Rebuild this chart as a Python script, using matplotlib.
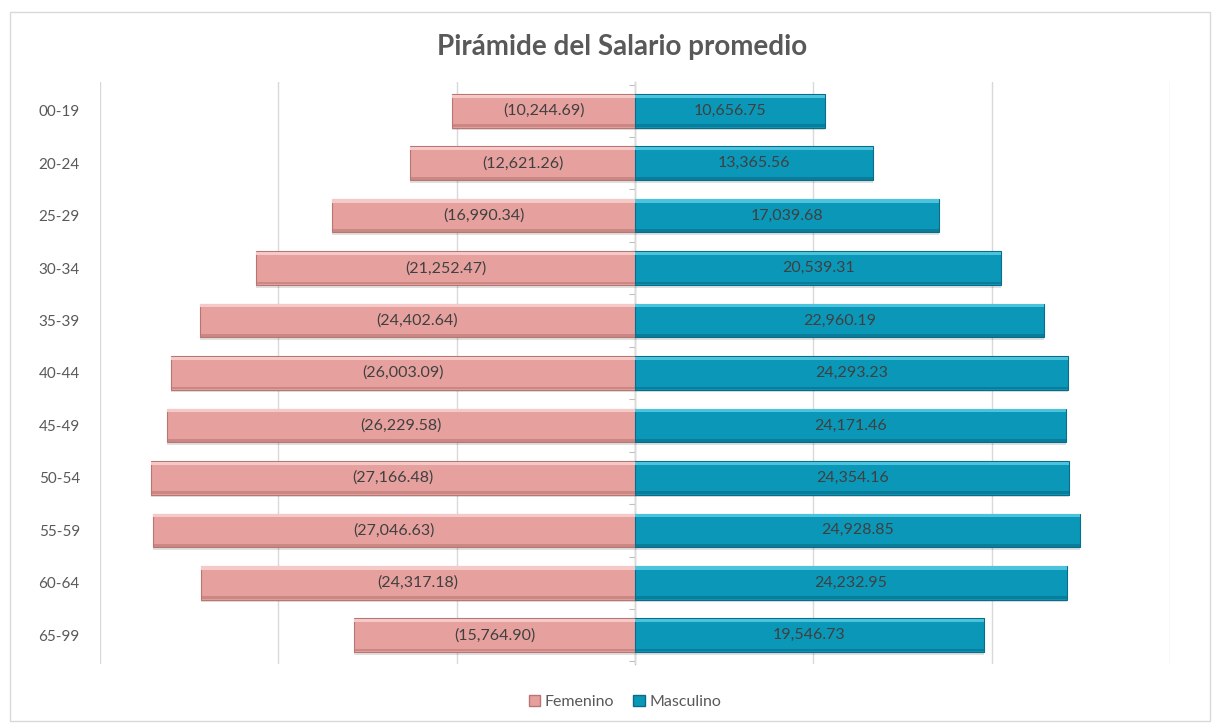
import matplotlib
matplotlib.use("Agg")
import matplotlib.pyplot as plt
from matplotlib.patches import Rectangle
import numpy as np

plt.rcParams['font.family'] = ['Lato', 'DejaVu Sans']

categories = ["00-19", "20-24", "25-29", "30-34", "35-39", "40-44",
              "45-49", "50-54", "55-59", "60-64", "65-99"]
femenino = [10244.69, 12621.26, 16990.34, 21252.47, 24402.64, 26003.09,
            26229.58, 27166.48, 27046.63, 24317.18, 15764.90]
masculino = [10656.75, 13365.56, 17039.68, 20539.31, 22960.19, 24293.23,
             24171.46, 24354.16, 24928.85, 24232.95, 19546.73]
title = "Pirámide del Salario promedio"
series_names = ["Femenino", "Masculino"]

pink = "#E6A19F"
pink_edge = "#B87673"
pink_hi = "#F4C9C7"
teal = "#0B97B8"
teal_edge = "#0A6C86"
teal_hi = "#4CC3DD"
text_col = "#404040"
label_col = "#595959"
grid_col = "#D9D9D9"

W, H = 1216, 725
fig = plt.figure(figsize=(W / 100, H / 100), dpi=100)
fig.patch.set_facecolor("white")
fig.patches.append(Rectangle((10 / W, 4 / H), 1200 / W, 709 / H, transform=fig.transFigure,
                             fill=False, edgecolor="#D9D9D9", linewidth=1.0))

ax = fig.add_axes([100 / W, 1 - 664 / H, 1070 / W, (664 - 82) / H])
y = np.arange(len(categories))
fem_neg = -np.array(femenino)
mas = np.array(masculino)
h = 0.64

# shadows
ax.barh(y + 0.05, fem_neg, height=h, left=0, color="#000000", alpha=0.12, zorder=2, linewidth=0)
ax.barh(y + 0.05, mas, height=h, color="#000000", alpha=0.12, zorder=2, linewidth=0)
# main bars
ax.barh(y, fem_neg, height=h, color=pink, edgecolor=pink_edge, linewidth=0.8, zorder=3)
ax.barh(y, mas, height=h, color=teal, edgecolor=teal_edge, linewidth=0.8, zorder=3)
# bevel highlights (top) and dark bottom strip
ax.barh(y - h / 2 + 0.04, fem_neg, height=0.06, color=pink_hi, linewidth=0, zorder=4)
ax.barh(y - h / 2 + 0.04, mas, height=0.06, color=teal_hi, linewidth=0, zorder=4)
ax.barh(y + h / 2 - 0.035, fem_neg, height=0.05, color=pink_edge, alpha=0.6, linewidth=0, zorder=4)
ax.barh(y + h / 2 - 0.035, mas, height=0.05, color=teal_edge, alpha=0.6, linewidth=0, zorder=4)

for yi, f, m in zip(y, femenino, masculino):
    ax.text(-f / 2, yi, f"({f:,.2f})", ha="center", va="center", fontsize=11.5,
            color=text_col, zorder=5)
    ax.text(m / 2, yi, f"{m:,.2f}", ha="center", va="center", fontsize=11.5,
            color=text_col, zorder=5)

ax.set_xlim(-30000, 30000)
ax.set_ylim(len(categories) - 0.45, -0.55)
ax.set_xticks(np.arange(-30000, 30001, 10000))
ax.tick_params(axis="x", length=0, labelbottom=False)
ax.grid(axis="x", color=grid_col, linewidth=1.0, zorder=0)
ax.set_axisbelow(True)
ax.set_yticks(y)
ax.set_yticklabels(categories, fontsize=11, color=label_col)
ax.tick_params(axis="y", length=0, pad=14.5)
for s in ax.spines.values():
    s.set_visible(False)

# center axis with tick marks between categories
sec = ax.secondary_yaxis(0.5)
sec.set_yticks(np.arange(-0.5, len(categories) + 0.5, 1.0))
sec.set_yticklabels([])
sec.tick_params(axis="y", which="both", length=4, color="#BFBFBF",
                labelleft=False, labelright=False, direction="in")
for s in sec.spines.values():
    s.set_color("#BFBFBF")
    s.set_linewidth(1.0)

fig.text(622 / W, 1 - 47 / H, title, ha="center", va="center", fontsize=20,
         fontweight="bold", color=label_col)

handles = [Rectangle((0, 0), 1, 1, facecolor=pink, edgecolor=pink_edge),
           Rectangle((0, 0), 1, 1, facecolor=teal, edgecolor=teal_edge)]
fig.legend(handles, series_names, loc="center", bbox_to_anchor=(625 / W, 1 - 702 / H),
           ncol=2, frameon=False, fontsize=11.5, handlelength=0.7, handleheight=0.7,
           handletextpad=0.3, columnspacing=1.2, labelcolor=label_col)

fig.savefig("out.png", dpi=100)
